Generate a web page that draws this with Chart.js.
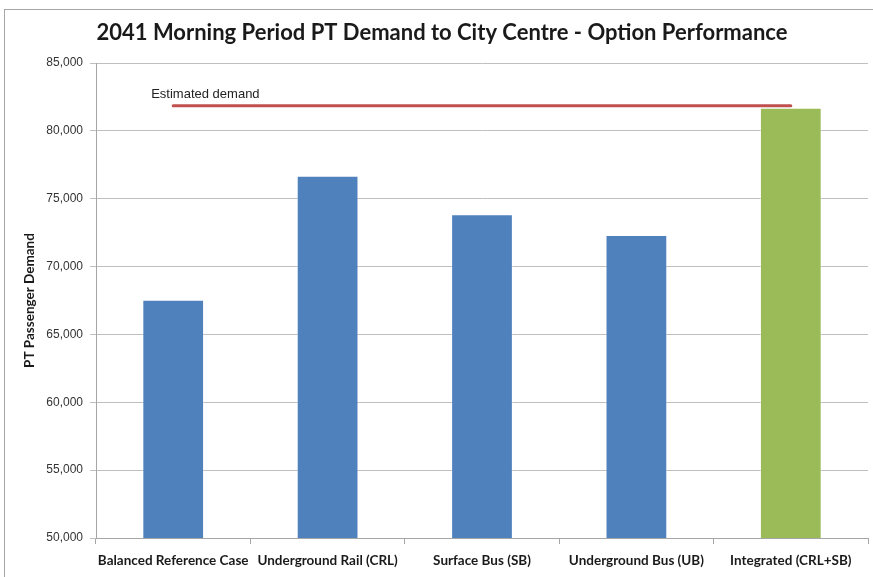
<!DOCTYPE html>
<html>
<head>
<meta charset="utf-8">
<script src="https://cdn.jsdelivr.net/npm/chart.js@4.4.1/dist/chart.umd.min.js"></script>
<style>
  html, body { margin: 0; padding: 0; background: #fff; }
  canvas { display: block; }
</style>
</head>
<body>
<canvas id="demandChart" width="873" height="577"></canvas>
<script>
// data
const categories = ['Balanced Reference Case', 'Underground Rail (CRL)', 'Surface Bus (SB)', 'Underground Bus (UB)', 'Integrated (CRL+SB)'];
const demand = [67550, 76700, 73850, 72320, 81700];
const estimatedDemand = [81850, 81850, 81850, 81850, 81850];
const barColors = ['#4f81bd', '#4f81bd', '#4f81bd', '#4f81bd', '#9bbb59'];
const yTicks = [50000, 55000, 60000, 65000, 70000, 75000, 80000, 85000];

const titleText = '2041 Morning Period PT Demand to City Centre - Option Performance';

// frame + title + line label
const decorations = {
    id: 'decorations',
    beforeDraw(chart) {
        const ctx = chart.ctx;
        ctx.save();
        ctx.strokeStyle = '#a6a6a6';
        ctx.lineWidth = 1;
        ctx.strokeRect(4.5, 9.5, 900, 600); // outer chart frame
        ctx.restore();
    },
    afterDraw(chart) {
        const ctx = chart.ctx;
        ctx.save();
        ctx.fillStyle = '#1a1a1a';
        ctx.font = 'bold 22px Lato, sans-serif';
        ctx.textAlign = 'center';
        ctx.textBaseline = 'middle';
        ctx.fillText(titleText, 442, 33);

        // label above the estimated demand line
        const meta = chart.getDatasetMeta(1);
        const p = meta.data[0];
        ctx.font = '13px "Liberation Sans", Arial, sans-serif';
        ctx.textAlign = 'left';
        ctx.fillStyle = '#222';
        ctx.fillText('Estimated demand', p.x - 22, p.y - 11);
        ctx.restore();
    }
};

const ctx = document.getElementById('demandChart').getContext('2d');
const chart = new Chart(ctx, {
    data: {
        labels: categories,
        datasets: [{
            type: 'bar',
            label: 'PT Passenger Demand',
            data: demand,
            backgroundColor: barColors,
            borderColor: 'rgba(255,255,255,0.35)',
            borderWidth: 1,
            barPercentage: 0.4,
            categoryPercentage: 1.0,
            order: 2
        }, {
            type: 'line',
            label: 'Estimated demand',
            data: estimatedDemand,
            borderColor: '#c0504d',
            borderWidth: 3,
            pointRadius: 0,
            borderCapStyle: 'round',
            order: 1
        }]
    },
    options: {
        responsive: false,
        animation: false,
        layout: {
            padding: { left: 0, top: 63, right: 5, bottom: 0 }
        },
        plugins: {
            legend: { display: false },
            tooltip: { enabled: false }
        },
        scales: {
            x: {
                grid: {
                    offset: true,
                    drawOnChartArea: false, // only the small tick marks
                    color: '#a6a6a6',
                    tickLength: 6
                },
                border: { color: '#a6a6a6' },
                ticks: {
                    color: '#1a1a1a',
                    font: { family: 'Lato', size: 13.5, weight: 'bold' },
                    padding: 9,
                    maxRotation: 0,
                    autoSkip: false
                },
                afterFit(scale) { scale.height = 39; }
            },
            y: {
                min: 50000,
                max: 85000,
                afterBuildTicks(scale) {
                    scale.ticks = yTicks.map(v => ({ value: v }));
                },
                grid: {
                    color: '#bfbfbf',
                    tickLength: 6
                },
                border: { color: '#a6a6a6' },
                ticks: {
                    color: '#333',
                    font: { family: 'Liberation Sans', size: 12 },
                    padding: 7,
                    callback: v => v.toLocaleString('en-US')
                },
                title: {
                    display: true,
                    text: 'PT Passenger Demand',
                    color: '#1a1a1a',
                    font: { family: 'Lato', size: 13.5, weight: 'bold' },
                    padding: { top: 22, bottom: 0 }
                },
                afterFit(scale) { scale.width = 96; }
            }
        }
    },
    plugins: [decorations]
});
</script>
</body>
</html>
